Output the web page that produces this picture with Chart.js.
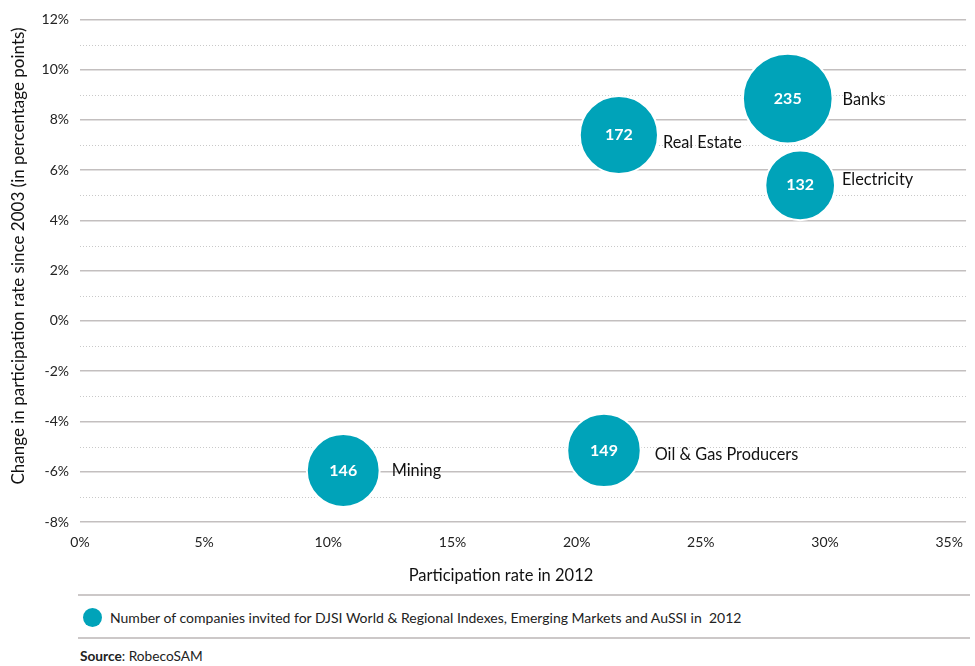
<!DOCTYPE html>
<html>
<head>
<meta charset="utf-8">
<title>Participation rate by sector</title>
<script src="https://cdn.jsdelivr.net/npm/chart.js@4.4.1/dist/chart.umd.min.js"></script>
<style>
  body { margin: 0; background: #fff; font-family: Lato, "Open Sans", sans-serif; color: #222; }
  #wrap { position: relative; width: 975px; height: 666px; }
  #chartBox { position: absolute; left: 0; top: 0; width: 975px; height: 595px; }
  .rule { position: absolute; left: 78px; width: 892px; height: 0; border-top: 2px solid #ccc8c8; }
  .legend { position: absolute; left: 83px; top: 607px; height: 20px; display: flex; align-items: center; font-size: 14px; color: #222; }
  .legend .dot { width: 19px; height: 19px; border-radius: 50%; background: #00a3b9; margin-right: 8px; }
  .source { position: absolute; left: 80px; top: 647px; font-size: 13.7px; color: #222; }
</style>
</head>
<body>
<div id="wrap">
  <div id="chartBox"><canvas id="bubbleChart"></canvas></div>
  <div class="rule" style="top:594px"></div>
  <div class="legend"><span class="dot"></span>Number of companies invited for DJSI World &amp; Regional Indexes, Emerging Markets and AuSSI in&nbsp; 2012</div>
  <div class="rule" style="top:637px"></div>
  <div class="source"><b>Source</b>: RobecoSAM</div>
</div>
<script>
// Sectors and their values
const sectors = ['Banks', 'Real Estate', 'Electricity', 'Oil & Gas Producers', 'Mining'];
const participation2012 = [28.5, 21.7, 29.0, 21.1, 10.6];   // x, %
const changeSince2003 = [8.85, 7.4, 5.4, -5.15, -5.95];     // y, percentage points
const invitedCompanies = [235, 172, 132, 149, 146];         // bubble size
const xTickValues = [0, 5, 10, 15, 20, 25, 30, 35];

// where each sector name sits relative to the bubble edge
const nameOffsets = [[10, 1], [5, 8], [7, -6], [14, 4], [12, 0]];

const TEAL = '#00a3b9';
const FONT = 'Lato, "Open Sans", sans-serif';
const X_TITLE = 'Participation rate in 2012';
const Y_TITLE = 'Change in participation rate since 2003 (in percentage points)';

// bubble radius grows with the square root of the company count
const radiusFor = n => 5 + 2.6 * Math.sqrt(n);

// dotted half-step grid lines, bubble / sector labels and the axis titles
const labelPlugin = {
  id: 'labelPlugin',
  beforeDatasetsDraw(chart) {
    const { ctx, chartArea, scales: { y } } = chart;
    ctx.save();
    ctx.strokeStyle = '#c9c9c9';
    ctx.lineWidth = 1;
    ctx.setLineDash([1, 2]);
    for (let v = -7; v <= 11; v += 2) {
      const py = Math.round(y.getPixelForValue(v)) + 0.5;
      ctx.beginPath();
      ctx.moveTo(chartArea.left, py);
      ctx.lineTo(chartArea.right, py);
      ctx.stroke();
    }
    ctx.restore();
  },
  afterDatasetsDraw(chart) {
    const { ctx } = chart;
    const meta = chart.getDatasetMeta(0);
    ctx.save();
    meta.data.forEach((pt, i) => {
      const r = pt.options.radius;
      ctx.fillStyle = '#fff';
      ctx.font = 'bold 16px ' + FONT;
      ctx.textAlign = 'center';
      ctx.textBaseline = 'middle';
      ctx.fillText(String(invitedCompanies[i]), pt.x, pt.y);

      ctx.fillStyle = '#111';
      ctx.font = '16.3px ' + FONT;
      ctx.textAlign = 'left';
      ctx.fillText(sectors[i], pt.x + r + nameOffsets[i][0], pt.y + nameOffsets[i][1]);
    });

    // x title, a bit left of the plot's centre
    ctx.fillStyle = '#111';
    ctx.font = '16.5px ' + FONT;
    ctx.textAlign = 'center';
    ctx.textBaseline = 'middle';
    ctx.fillText(X_TITLE, 501, 576);

    // y title sits a little above the plot's middle
    ctx.translate(19, 256);
    ctx.rotate(-Math.PI / 2);
    ctx.font = '17px ' + FONT;
    ctx.fillText(Y_TITLE, 0, 0);
    ctx.restore();
  }
};

document.addEventListener('DOMContentLoaded', function () {
  const ctx = document.getElementById('bubbleChart').getContext('2d');

  new Chart(ctx, {
    type: 'bubble',
    data: {
      datasets: [{
        label: 'Number of companies invited',
        data: sectors.map((s, i) => ({
          x: participation2012[i],
          y: changeSince2003[i],
          r: radiusFor(invitedCompanies[i])
        })),
        backgroundColor: TEAL,
        borderColor: '#fff',
        borderWidth: 2,
        hoverBackgroundColor: TEAL,
        hoverBorderColor: '#fff'
      }]
    },
    options: {
      responsive: true,
      maintainAspectRatio: false,
      animation: false,
      layout: { autoPadding: false, padding: { top: 19, right: 5, left: 0, bottom: 0 } },
      plugins: {
        legend: { display: false },
        tooltip: { enabled: false }
      },
      scales: {
        x: {
          type: 'linear',
          min: 0,
          max: 35.68,
          afterBuildTicks: scale => { scale.ticks = xTickValues.map(v => ({ value: v })); },
          afterFit: scale => { scale.height = 73; },
          grid: { display: false, drawTicks: false },
          border: { display: false },
          ticks: {
            padding: 12,
            color: '#222',
            font: { family: FONT, size: 14 },
            maxRotation: 0,
            callback: v => v + '%'
          }
        },
        y: {
          min: -8,
          max: 12,
          afterFit: scale => { scale.width = 80; },
          grid: {
            drawTicks: false,
            lineWidth: 1.5,
            color: c => (c.tick && c.tick.value % 2 === 0) ? '#c3bfbf' : 'rgba(0,0,0,0)'
          },
          border: { display: false },
          ticks: {
            stepSize: 1,
            padding: 11,
            color: '#222',
            font: { family: FONT, size: 14 },
            callback: v => (v % 2 === 0 ? v + '%' : '')
          }
        }
      }
    },
    plugins: [labelPlugin]
  });
});
</script>
</body>
</html>
